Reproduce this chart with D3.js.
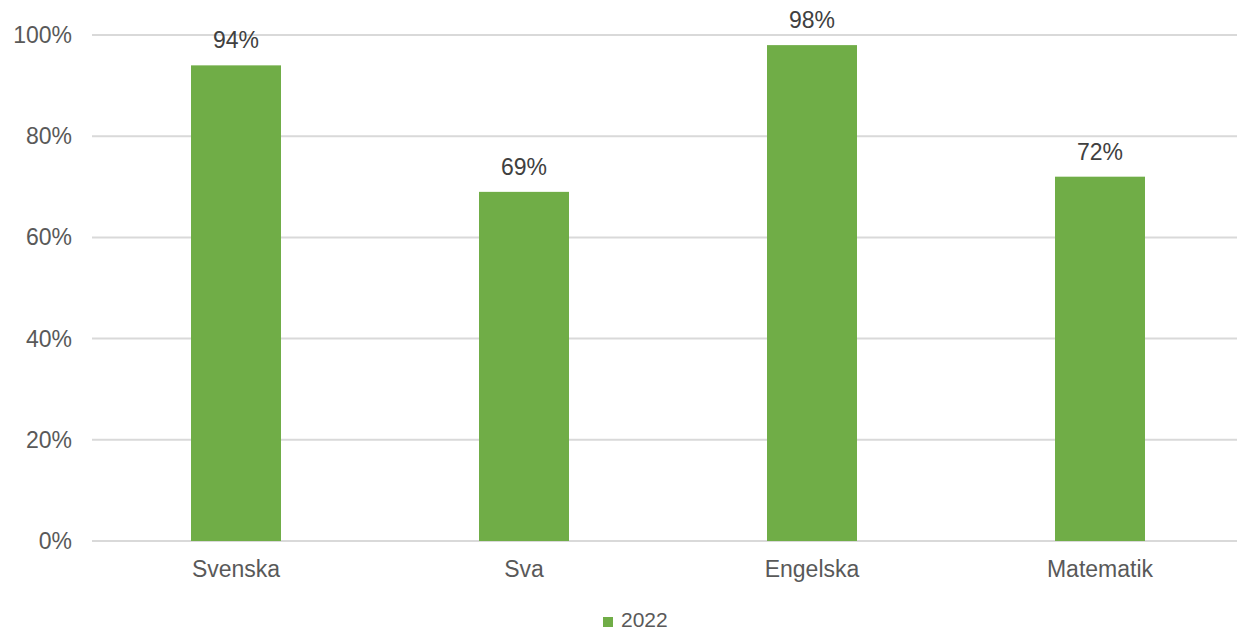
<!DOCTYPE html>
<html><head><meta charset="utf-8">
<script src="https://cdn.jsdelivr.net/npm/d3@7"></script>
<style>body{margin:0;background:#fff;} svg{display:block;font-family:"Liberation Sans",Arial,sans-serif;}</style>
</head><body>
<svg id="c" width="1237" height="630"></svg>
<script>
const categories = ["Svenska","Sva","Engelska","Matematik"];
const values2022 = [0.94,0.69,0.98,0.72];
const seriesName = "2022";
const yTicks = [0,0.2,0.4,0.6,0.8,1.0];

const svg = d3.select("#c");
const x = d3.scaleBand().domain(categories).range([92,1244]).paddingInner(0.6875).paddingOuter(0.34375);
const y = d3.scaleLinear().domain([0,1]).range([541,35]);
const fmt = d3.format(".0%");

svg.append("g").selectAll("line").data(yTicks).join("line")
  .attr("x1",92).attr("x2",1237).attr("y1",d=>y(d)).attr("y2",d=>y(d))
  .attr("stroke","#d9d9d9").attr("stroke-width",2);

svg.append("g").selectAll("text").data(yTicks).join("text")
  .attr("x",72).attr("y",d=>y(d)).attr("dy","0.35em").attr("text-anchor","end")
  .attr("font-size",23).attr("fill","#595959").text(d=>fmt(d));

svg.append("g").selectAll("rect").data(values2022).join("rect")
  .attr("x",(d,i)=>x(categories[i])).attr("width",x.bandwidth())
  .attr("y",d=>y(d)).attr("height",d=>y(0)-y(d)).attr("fill","#70ad47");

svg.append("g").selectAll("text").data(values2022).join("text")
  .attr("x",(d,i)=>x(categories[i])+x.bandwidth()/2).attr("y",d=>y(d)-17)
  .attr("text-anchor","middle").attr("font-size",23).attr("fill","#404040").text(d=>fmt(d));

svg.append("g").selectAll("text").data(categories).join("text")
  .attr("x",d=>x(d)+x.bandwidth()/2).attr("y",577)
  .attr("text-anchor","middle").attr("font-size",23).attr("fill","#595959").text(d=>d);

const lg = svg.append("g");
lg.append("rect").attr("x",603).attr("y",617).attr("width",10).attr("height",10).attr("fill","#70ad47");
lg.append("text").attr("x",621).attr("y",627).attr("font-size",21).attr("fill","#595959").text(seriesName);
</script>
</body></html>
